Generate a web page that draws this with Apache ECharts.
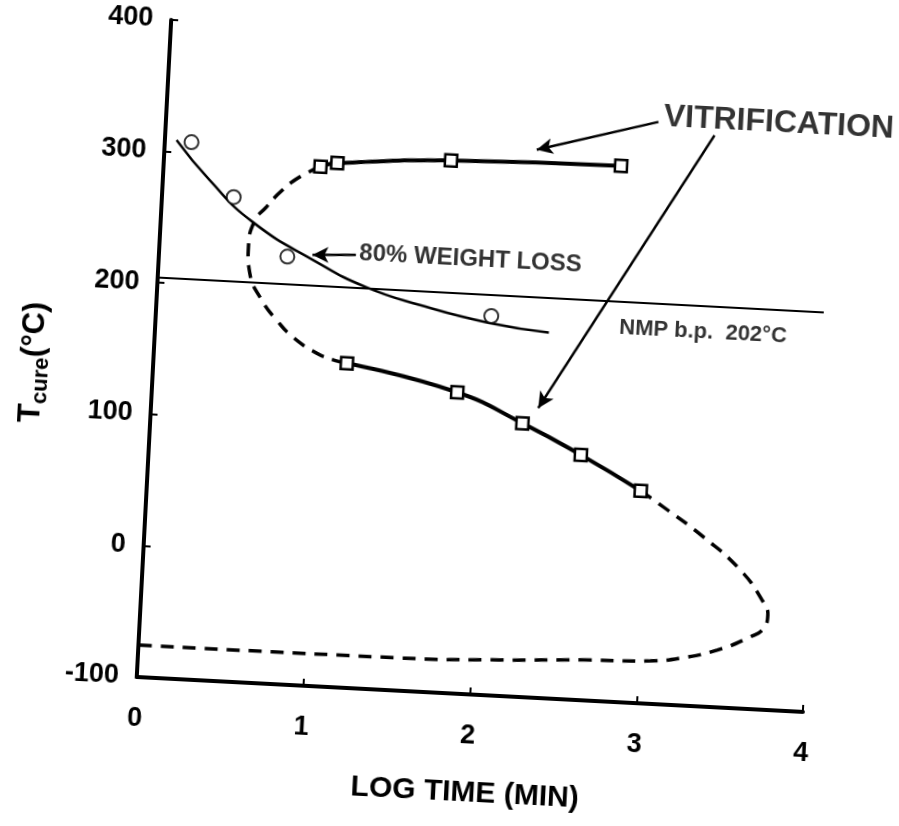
<!DOCTYPE html>
<html>
<head>
<meta charset="utf-8">
<title>Tcure vs log time</title>
<script src="https://cdn.jsdelivr.net/npm/echarts@6/dist/echarts.min.js"></script>
<style>
html, body { margin: 0; padding: 0; background: #fff; overflow: hidden; }
/* the scanned figure sits about 3 degrees turned */
#chart { width: 899px; height: 826px; transform: rotate(3deg); transform-origin: 50% 50%; }
</style>
</head>
<body>
<div id="chart"></div>
<script>
var xTicks = [0, 1, 2, 3, 4];
var yTicks = [-100, 0, 100, 200, 300, 400];

// 80% weight loss: measured points and fitted curve
var weightLossPoints = [[0.16, 308], [0.43, 268], [0.77, 225], [2.01, 188]];
var weightLossCurve = [[0.07, 309], [0.28, 280], [0.55, 250], [0.94, 222.5], [1.25, 205], [1.58, 193.5], [2.0, 182.7], [2.36, 177.8]];

// NMP boiling point
var nmpLine = [[0, 204], [4, 204]];

// vitrification, upper and lower measured branches
var vitUpper = [[0.94, 294.6], [1.04, 297.9], [1.72, 304.4], [2.74, 307.1]];
var vitLower = [[1.16, 146.4], [1.83, 128.7], [2.23, 107.9], [2.59, 86.2], [2.96, 61.3]];

// vitrification, dashed (extrapolated) parts
var vitDashLeft = [[0.94, 294.6], [0.82, 286], [0.72, 275.4], [0.63, 262], [0.56, 250], [0.534, 231], [0.55, 211], [0.63, 191], [0.725, 176.5], [0.83, 164], [0.975, 153], [1.09, 148], [1.16, 146.4]];
var vitDashRight = [[2.96, 61.3], [3.1, 50], [3.35, 28.8], [3.58, 5.3], [3.72, -16.6], [3.76, -28], [3.74, -38], [3.66, -45.2], [3.47, -56.4], [3.26, -63.8], [3.07, -67.4], [2.67, -69.3], [2.17, -72.6], [1.57, -75.1], [0, -75.7]];

// arrows: [from, to]
var arrows = [
  [[1.18, 229], [0.92, 227.3]],
  [[2.95, 342], [2.23, 316]],
  [[3.29, 334], [2.32, 120]]
];

var notes = [
  { name: 'VITRIFICATION', value: [2.98, 346], size: 32 },
  { name: '80% WEIGHT LOSS', value: [1.2, 230], size: 24 },
  { name: 'NMP b.p.  202°C', value: [2.78, 184], size: 22 }
];

var font = 'Liberation Sans, Arial, sans-serif';
var chart = echarts.init(document.getElementById('chart'));

chart.setOption({
  animation: false,
  grid: { left: 151, right: 81, top: 35, bottom: 133 },
  xAxis: {
    type: 'value',
    min: xTicks[0], max: xTicks[xTicks.length - 1], interval: xTicks[1] - xTicks[0],
    name: 'LOG TIME (MIN)',
    nameLocation: 'middle',
    nameGap: 84,
    nameTextStyle: { fontFamily: font, fontWeight: 'bold', fontSize: 30, color: '#000' },
    axisLine: { onZero: false, lineStyle: { color: '#000', width: 4 } },
    axisTick: { inside: true, length: 7, lineStyle: { color: '#000', width: 2 } },
    axisLabel: { margin: 28, fontFamily: font, fontWeight: 'bold', fontSize: 27, color: '#000' },
    splitLine: { show: false }
  },
  yAxis: {
    type: 'value',
    min: yTicks[0], max: yTicks[yTicks.length - 1], interval: yTicks[1] - yTicks[0],
    name: '{t|T}{s|cure}{t|(°C)}',
    nameLocation: 'middle',
    nameRotate: 90,
    nameGap: 100,
    nameTextStyle: {
      padding: [0, 40, 0, 0],
      rich: {
        t: { fontFamily: font, fontWeight: 'bold', fontSize: 31, color: '#000' },
        s: { fontFamily: font, fontWeight: 'bold', fontSize: 22, color: '#000', padding: [18, 0, 0, 0] }
      }
    },
    axisLine: { show: true, onZero: false, lineStyle: { color: '#000', width: 4 } },
    axisTick: { show: true, inside: true, length: 7, lineStyle: { color: '#000', width: 2 } },
    axisLabel: { margin: 18, fontFamily: font, fontWeight: 'bold', fontSize: 27, color: '#000' },
    splitLine: { show: false }
  },
  series: [
    {
      name: 'NMP b.p.', type: 'line', data: nmpLine, symbol: 'none',
      lineStyle: { color: '#000', width: 2 },
      markLine: {
        silent: true, symbol: ['none', 'arrow'], symbolSize: [12, 16],
        label: { show: false },
        lineStyle: { color: '#000', width: 2.5, type: 'solid' },
        data: arrows.map(function (a) { return [{ coord: a[0] }, { coord: a[1] }]; })
      }
    },
    {
      name: '80% weight loss fit', type: 'line', data: weightLossCurve, smooth: true, symbol: 'none',
      lineStyle: { color: '#000', width: 2.5 }
    },
    {
      name: 'vitrification dashed left', type: 'line', data: vitDashLeft, smooth: true, symbol: 'none',
      lineStyle: { color: '#000', width: 3.5, type: [13, 9] }
    },
    {
      name: 'vitrification dashed right', type: 'line', data: vitDashRight, smooth: true, symbol: 'none',
      lineStyle: { color: '#000', width: 3.5, type: [13, 9] }
    },
    {
      name: 'vitrification upper', type: 'line', data: vitUpper, smooth: true,
      symbol: 'rect', symbolSize: 12, showAllSymbol: true,
      lineStyle: { color: '#000', width: 4 },
      itemStyle: { color: '#fff', borderColor: '#000', borderWidth: 2.5 }
    },
    {
      name: 'vitrification lower', type: 'line', data: vitLower, smooth: true,
      symbol: 'rect', symbolSize: 12, showAllSymbol: true,
      lineStyle: { color: '#000', width: 4 },
      itemStyle: { color: '#fff', borderColor: '#000', borderWidth: 2.5 }
    },
    {
      name: '80% weight loss', type: 'scatter', data: weightLossPoints,
      symbol: 'circle', symbolSize: 14, z: 5,
      itemStyle: { color: '#fff', borderColor: '#000', borderWidth: 2 }
    },
    {
      name: 'notes', type: 'scatter', symbolSize: 0, silent: true,
      data: notes.map(function (n) {
        return { name: n.name, value: n.value, label: { fontSize: n.size, color: '#000' } };
      }),
      label: {
        show: true, position: 'right', distance: 0,
        formatter: '{b}', fontFamily: font, fontWeight: 'bold', color: '#000'
      }
    }
  ]
});
</script>
</body>
</html>
